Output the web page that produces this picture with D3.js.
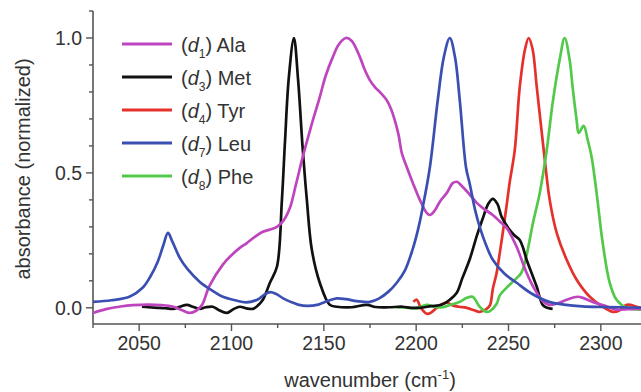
<!DOCTYPE html>
<html>
<head>
<meta charset="utf-8">
<script src="https://cdn.jsdelivr.net/npm/d3@7"></script>
<style>
  html, body { margin: 0; padding: 0; background: #fff; }
  svg text { font-family: Arial, "Liberation Sans", sans-serif; fill: #333; }
</style>
</head>
<body>
<div class="chart-wrapper"></div>
<script>
// series data: wavenumber (cm-1) and normalized absorbance
const alaWn = [2025, 2032, 2040, 2046.6, 2055, 2062, 2068, 2073, 2077.5, 2081, 2084, 2088, 2095.3, 2100, 2104.5, 2108.3, 2113, 2117, 2121, 2124.6, 2128, 2131.6, 2135, 2138.6, 2143, 2147.8, 2151, 2154.9, 2158, 2161.9, 2165, 2169.5, 2172, 2174.9, 2178, 2180.3, 2184, 2186.5, 2188.4, 2190.5, 2192.2, 2195, 2198.2, 2202, 2205.7, 2207.4, 2210, 2213, 2216.6, 2219.8, 2222, 2225.2, 2229, 2232.8, 2237, 2241.5, 2245, 2249, 2252, 2254.4, 2257, 2259.8, 2262.5, 2265.3, 2268.5, 2272, 2276, 2281.5, 2287.4, 2291, 2295.6, 2302, 2308.5, 2315, 2325];
const alaAbs = [-0.019, -0.005, 0.005, 0.01, 0.012, 0.01, 0.005, -0.008, -0.019, -0.01, 0.01, 0.08, 0.16, 0.195, 0.222, 0.24, 0.265, 0.282, 0.29, 0.3, 0.322, 0.37, 0.46, 0.56, 0.67, 0.781, 0.86, 0.93, 0.975, 1.0, 0.99, 0.93, 0.885, 0.844, 0.815, 0.8, 0.77, 0.735, 0.696, 0.64, 0.574, 0.52, 0.463, 0.4, 0.352, 0.344, 0.36, 0.395, 0.426, 0.462, 0.467, 0.448, 0.42, 0.389, 0.365, 0.344, 0.322, 0.296, 0.26, 0.226, 0.18, 0.13, 0.09, 0.056, 0.025, 0.011, 0.015, 0.03, 0.041, 0.035, 0.022, 0.008, -0.007, -0.005, -0.003];

const metWn = [2051.5, 2055, 2061.3, 2065, 2068.3, 2072, 2075.9, 2079, 2082.9, 2086, 2089.9, 2093, 2097.5, 2101, 2104.5, 2108, 2111.6, 2113.7, 2117, 2120.8, 2124.6, 2127.3, 2129, 2131, 2133.8, 2136, 2138.6, 2140.8, 2143.5, 2147.8, 2153.2, 2157, 2165, 2173.3, 2178, 2185, 2192.7, 2197, 2202, 2208, 2214, 2218.2, 2222, 2225, 2229, 2233, 2236, 2239, 2241.5, 2244, 2246.3, 2250.6, 2253, 2256, 2258, 2259.8, 2263, 2265.3, 2268.5, 2271, 2273.9];
const metAbs = [0.004, 0.002, 0.0, -0.002, -0.004, 0.004, 0.011, 0.004, -0.004, 0.002, 0.004, -0.008, -0.019, -0.005, 0.004, -0.002, -0.004, 0.005, 0.03, 0.093, 0.152, 0.4, 0.62, 0.85, 1.0, 0.85, 0.585, 0.4, 0.215, 0.093, 0.011, 0.004, 0.002, 0.011, 0.003, 0.002, 0.004, 0.0, 0.0, 0.006, 0.012, 0.03, 0.056, 0.11, 0.18, 0.27, 0.33, 0.385, 0.404, 0.385, 0.337, 0.289, 0.27, 0.252, 0.22, 0.178, 0.12, 0.078, 0.011, 0.0, -0.004];

const tyrWn = [2198.5, 2200.3, 2202.5, 2205.7, 2208, 2211.1, 2214.4, 2216.6, 2219.8, 2223, 2227.4, 2231, 2234.4, 2238, 2240, 2241.5, 2243.6, 2245.2, 2246.9, 2249, 2250.6, 2253.4, 2256.1, 2259, 2260.9, 2263, 2265.3, 2269.3, 2272.3, 2276.1, 2281.5, 2286.9, 2294, 2301, 2306.4, 2310, 2314, 2319.4, 2325];
const tyrAbs = [0.022, 0.03, 0.0, -0.022, -0.018, 0.0, 0.015, 0.019, 0.009, 0.004, 0.0, -0.008, -0.015, -0.005, 0.01, 0.07, 0.13, 0.2, 0.278, 0.38, 0.463, 0.585, 0.819, 0.96, 1.0, 0.96, 0.819, 0.57, 0.4, 0.278, 0.178, 0.104, 0.041, 0.004, -0.015, -0.01, 0.011, 0.004, -0.01];

const leuWn = [2025, 2035, 2045, 2052, 2056, 2060, 2063, 2065.6, 2068, 2072, 2076, 2083, 2090, 2095, 2102, 2108, 2114, 2118, 2121, 2124, 2128, 2132, 2136, 2141, 2147, 2152, 2157, 2162, 2168, 2175, 2180, 2185, 2189.5, 2194, 2198, 2201, 2203.6, 2207.4, 2211.7, 2215, 2218.2, 2221, 2223.6, 2227, 2229, 2232, 2234.4, 2238, 2241.5, 2248, 2254.4, 2262, 2272, 2280, 2290, 2300, 2310, 2325];
const leuAbs = [0.022, 0.028, 0.042, 0.075, 0.115, 0.17, 0.23, 0.278, 0.245, 0.185, 0.145, 0.095, 0.062, 0.042, 0.028, 0.02, 0.03, 0.05, 0.058, 0.052, 0.035, 0.022, 0.012, 0.007, 0.012, 0.025, 0.035, 0.032, 0.025, 0.022, 0.035, 0.06, 0.093, 0.14, 0.215, 0.29, 0.374, 0.52, 0.77, 0.93, 1.0, 0.93, 0.77, 0.52, 0.46, 0.36, 0.3, 0.23, 0.178, 0.125, 0.093, 0.055, 0.022, 0.012, 0.005, 0.003, 0.002, 0.0];

const pheWn = [2189.5, 2196, 2200, 2205.7, 2210, 2214.4, 2219, 2223.6, 2227.4, 2230.6, 2234.4, 2238, 2240, 2243.6, 2245.2, 2249, 2254.4, 2257, 2259.8, 2263.1, 2266.9, 2270.7, 2273.9, 2277.7, 2280.4, 2283.1, 2284.7, 2286.9, 2288, 2290.7, 2292.9, 2295, 2297.7, 2301, 2304.8, 2308.5, 2314, 2321.5, 2325];
const pheAbs = [0.002, 0.0, -0.002, 0.011, 0.004, 0.002, 0.012, 0.022, 0.037, 0.041, 0.004, -0.015, -0.012, 0.015, 0.045, 0.075, 0.11, 0.13, 0.195, 0.31, 0.425, 0.585, 0.759, 0.919, 1.0, 0.919, 0.819, 0.696, 0.648, 0.674, 0.622, 0.559, 0.426, 0.241, 0.093, 0.03, 0.0, -0.007, -0.008];

const seriesNames = ['Ala', 'Met', 'Tyr', 'Leu', 'Phe'];
const seriesSubs = ['1', '3', '4', '7', '8'];
const seriesColors = ['#bf45bf', '#111111', '#e4312b', '#3b4fb3', '#52c94a'];

const xMajorTicks = [2050, 2100, 2150, 2200, 2250, 2300];
const yMajorTicks = [0.0, 0.5, 1.0];

function drawChart() {
  const width = 641, height = 392;
  const margin = { top: 11, right: -6, bottom: 68, left: 93 };

  const svg = d3.select('.chart-wrapper')
    .append('svg')
    .attr('width', width)
    .attr('height', height);

  const x = d3.scaleLinear()
    .domain([2025, 2325])
    .range([margin.left, width - margin.right]);

  const y = d3.scaleLinear()
    .domain([-0.06, 1.1])
    .range([height - margin.bottom, margin.top]);

  const axisColor = '#555';

  // x axis: major ticks labelled, minor every 25
  const xMinor = d3.range(2025, 2326, 25).filter(v => xMajorTicks.indexOf(v) < 0);
  const xAxisG = svg.append('g')
    .attr('class', 'x-axis')
    .attr('transform', 'translate(0,' + (height - margin.bottom) + ')');

  xAxisG.append('line')
    .attr('x1', x(2025)).attr('x2', width)
    .attr('stroke', axisColor).attr('stroke-width', 1.6);

  xAxisG.selectAll('.minor')
    .data(xMinor)
    .enter()
    .append('line')
    .attr('x1', d => x(d)).attr('x2', d => x(d))
    .attr('y1', 0).attr('y2', 4)
    .attr('stroke', axisColor).attr('stroke-width', 1.4);

  xAxisG.selectAll('.major')
    .data(xMajorTicks)
    .enter()
    .append('line')
    .attr('x1', d => x(d)).attr('x2', d => x(d))
    .attr('y1', 0).attr('y2', 7)
    .attr('stroke', axisColor).attr('stroke-width', 1.4);

  xAxisG.selectAll('.label')
    .data(xMajorTicks)
    .enter()
    .append('text')
    .attr('x', d => x(d))
    .attr('y', 26)
    .attr('text-anchor', 'middle')
    .attr('font-size', '19.5px')
    .text(d => d);

  // y axis: major ticks labelled, minor every 0.1
  const yMinor = d3.range(0, 12).map(i => i / 10).filter(v => [0, 5, 10].indexOf(Math.round(v * 10)) < 0);
  const yAxisG = svg.append('g')
    .attr('class', 'y-axis')
    .attr('transform', 'translate(' + margin.left + ',0)');

  yAxisG.append('line')
    .attr('y1', y(1.1)).attr('y2', height - margin.bottom)
    .attr('stroke', axisColor).attr('stroke-width', 1.6);

  yAxisG.selectAll('.minor')
    .data(yMinor)
    .enter()
    .append('line')
    .attr('y1', d => y(d)).attr('y2', d => y(d))
    .attr('x1', -4).attr('x2', 0)
    .attr('stroke', axisColor).attr('stroke-width', 1.4);

  yAxisG.selectAll('.major')
    .data(yMajorTicks)
    .enter()
    .append('line')
    .attr('y1', d => y(d)).attr('y2', d => y(d))
    .attr('x1', -7).attr('x2', 0)
    .attr('stroke', axisColor).attr('stroke-width', 1.4);

  yAxisG.selectAll('.label')
    .data(yMajorTicks)
    .enter()
    .append('text')
    .attr('x', -11)
    .attr('y', d => y(d) + 7)
    .attr('text-anchor', 'end')
    .attr('font-size', '19.5px')
    .text(d => d3.format('.1f')(d));

  // axis titles
  const xTitle = svg.append('text')
    .attr('x', 370)
    .attr('y', 387)
    .attr('text-anchor', 'middle')
    .attr('font-size', '20px');
  xTitle.append('tspan').text('wavenumber (cm');
  xTitle.append('tspan').attr('font-size', '13px').attr('dy', -8).text('-1');
  xTitle.append('tspan').attr('dy', 8).text(')');

  svg.append('text')
    .attr('transform', 'translate(30,169) rotate(-90)')
    .attr('text-anchor', 'middle')
    .attr('font-size', '20px')
    .text('absorbance (normalized)');

  // curves
  const wns = [alaWn, metWn, tyrWn, leuWn, pheWn];
  const abss = [alaAbs, metAbs, tyrAbs, leuAbs, pheAbs];

  const line = d3.line()
    .x(d => x(d[0]))
    .y(d => y(d[1]))
    .curve(d3.curveCatmullRom.alpha(0.5));

  const curves = svg.append('g').classed('curves', true);
  // draw order so black/green sit under the others the way they do in the figure
  const order = [2, 4, 1, 0, 3];
  order.forEach(function (i) {
    const pts = wns[i].map((w, k) => [w, abss[i][k]]);
    curves.append('path')
      .datum(pts)
      .attr('fill', 'none')
      .attr('stroke', seriesColors[i])
      .attr('stroke-width', 2.7)
      .attr('stroke-linejoin', 'round')
      .attr('d', line);
  });

  // legend
  const legend = svg.append('g').classed('legend', true);
  const rows = legend.selectAll('g')
    .data(seriesNames)
    .enter()
    .append('g')
    .attr('transform', (d, i) => 'translate(0,' + (44 + i * 33) + ')');

  rows.append('line')
    .attr('x1', 122).attr('x2', 172)
    .attr('stroke', (d, i) => seriesColors[i])
    .attr('stroke-width', 3);

  const txt = rows.append('text')
    .attr('x', 181)
    .attr('y', 8)
    .attr('font-size', '20px');
  txt.append('tspan').text('(');
  txt.append('tspan').attr('font-style', 'italic').text('d');
  txt.append('tspan').attr('font-size', '12px').attr('dy', 6).text((d, i) => seriesSubs[i]);
  txt.append('tspan').attr('dy', -6).text(d => ') ' + d);
}

drawChart();
</script>
</body>
</html>
